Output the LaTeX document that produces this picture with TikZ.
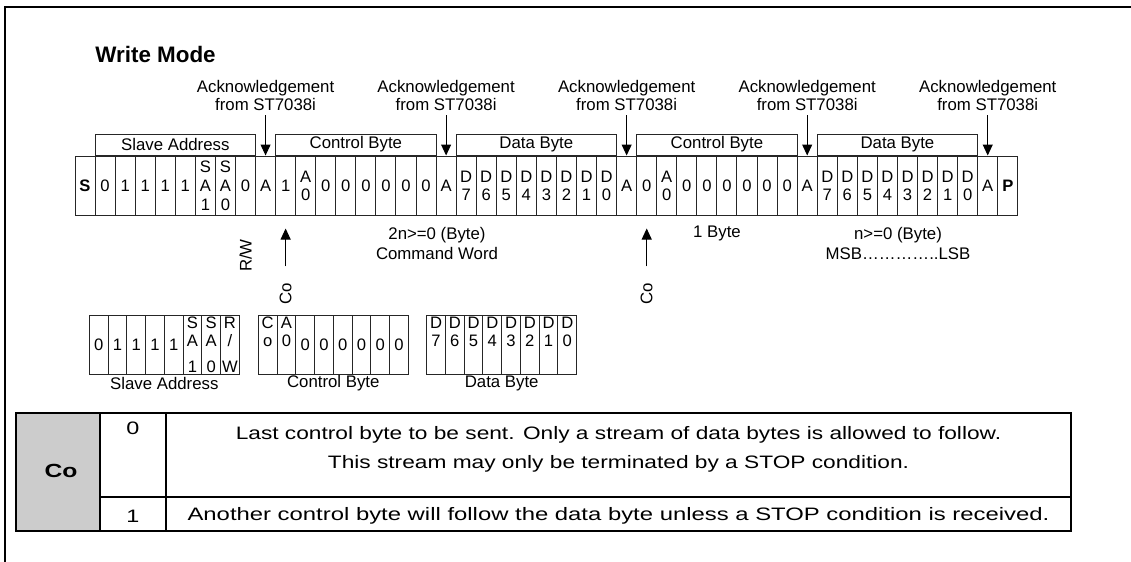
\documentclass[tikz,border=0pt]{standalone}
\usepackage{fontspec}
\setmainfont{Liberation Sans}
\usetikzlibrary{arrows.meta, calc, positioning}

% stacked cell texts
\newcommand{\stk}[2]{#1\\[-0.5pt]#2}
\newcommand{\bstk}[2]{#1\\[-0.5pt]#2\\[3.5pt]\phantom{0}}
\newcommand{\bthree}[3]{#1\\[-0.5pt]#2\\[3.5pt]#3}

\begin{document}
\begin{tikzpicture}[
	x=0.5pt, y=-0.5pt,
	every node/.style={inner sep=0pt, font=\fontsize{8.4}{9}\selectfont},
	cell/.style={draw=black!85, line width=0.5pt, minimum width=10.03pt, minimum height=29.5pt, align=center, font=\fontsize{8.3}{9.5}\selectfont},
	bcell/.style={cell, minimum width=9.375pt},
	hdr/.style={draw=black!85, line width=0.5pt, minimum width=80.24pt, minimum height=10.5pt, anchor=south west},
	ack/.style={align=center, font=\fontsize{8.4}{9}\selectfont},
	arrow/.style={line width=0.5pt, -{Triangle[width=5pt,length=5.5pt]}},
	tbl/.style={line width=1pt},
	tfont/.style={font=\fontsize{9}{11}\selectfont, xscale=1.3}
	]

	\useasboundingbox (0,0) rectangle (1131,562);
	\draw[line width=1pt] (5,562) -- (5,7) -- (1131,7);

	\node[anchor=base west, font=\fontsize{11.2}{12}\selectfont\bfseries] (title) at (95,62) {Write Mode};

	% Stream
	\foreach \t [count=\i from 0] in {\textbf{S},0,1,1,1,1,{S\\A\\1},{S\\A\\0},0,A,
		1,{\stk{A}{0}},0,0,0,0,0,0,A,
		{\stk{D}{7}},{\stk{D}{6}},{\stk{D}{5}},{\stk{D}{4}},{\stk{D}{3}},{\stk{D}{2}},{\stk{D}{1}},{\stk{D}{0}},A,
		0,{\stk{A}{0}},0,0,0,0,0,0,A,
		{\stk{D}{7}},{\stk{D}{6}},{\stk{D}{5}},{\stk{D}{4}},{\stk{D}{3}},{\stk{D}{2}},{\stk{D}{1}},{\stk{D}{0}},A,\textbf{P}}
		\node[cell] (c\i) at ({75+(\i+0.5)*20.06}, 185.5) {\t};

	\foreach \a/\txt in {1/Slave Address, 10/Control Byte, 19/Data Byte, 28/Control Byte, 37/Data Byte}
		\node[hdr] (h\a) at (c\a.north west) {\txt};

	% Acknowledgement
	\foreach \j in {9,18,27,36,45} {
		\node[ack] (ack\j) at ($(c\j.north)+(0,-60)$) {Acknowledgement\\from ST7038i};
		\draw[arrow, shorten <=2pt] (ack\j) -- (c\j.north);
	}

	% Below the stream
	\node[rotate=90] (rw) at ($(c8.south)+(0,40)$) {R/W};
	\node[rotate=90] (co1) at ($(c10.south)+(0,78)$) {Co};
	\node[rotate=90] (co2) at ($(c28.south)+(0,78)$) {Co};
	\coordinate (tip1) at ($(c10.south)+(0,13)$);
	\coordinate (tip2) at ($(c28.south)+(0,13)$);
	\draw[arrow, shorten <=8pt] (co1) -- (tip1);
	\draw[arrow, shorten <=8pt] (co2) -- (tip2);

	\node[align=center, font=\fontsize{8.4}{10}\selectfont] (cmd) at (437,243) {2n>=0 (Byte)\\Command Word};
	\node (onebyte) at (717,233) {1 Byte};
	\node[align=center, font=\fontsize{8.4}{10}\selectfont] (msb) at (898,243) {n>=0 (Byte)\\MSB…………..LSB};

	% Bytes
	\foreach \t [count=\i] in {0,1,1,1,1,{\bthree{S}{A}{1}},{\bthree{S}{A}{0}},{\bthree{R}{/}{W}}}
		\node[bcell] (s\i) at ({89.3+(\i-0.5)*18.75}, 344.5) {\t};
	\foreach \t [count=\i] in {{\bstk{C}{o}},{\bstk{A}{0}},0,0,0,0,0,0}
		\node[bcell] (k\i) at ({258.3+(\i-0.5)*18.75}, 344.5) {\t};
	\foreach \t [count=\i] in {{\bstk{D}{7}},{\bstk{D}{6}},{\bstk{D}{5}},{\bstk{D}{4}},{\bstk{D}{3}},{\bstk{D}{2}},{\bstk{D}{1}},{\bstk{D}{0}}}
		\node[bcell] (d\i) at ({426.7+(\i-0.5)*18.75}, 344.5) {\t};
	\node (slab) at ($(s1.south)!0.5!(s8.south)+(0,9)$) {Slave Address};
	\node (klab) at ($(k1.south)!0.5!(k8.south)+(0,9)$) {Control Byte};
	\node (dlab) at ($(d1.south)!0.5!(d8.south)+(0,9)$) {Data Byte};

	% Table
	\draw[tbl, fill=black!20] (16,413) rectangle (100,531);
	\draw[tbl] (16,413) rectangle (1071,531);
	\draw[tbl] (166,413) -- (166,531);
	\draw[tbl] (100,497) -- (1071,497);
	\node[tfont, font=\fontsize{9.5}{11}\selectfont\bfseries] (cohead) at (61,471) {Co};
	\node[tfont] (zero) at (133,428) {0};
	\node[tfont] (one) at (133,516) {1};
	\node[tfont, xscale=0.97] (row1a) at (618.5,435) {Last control byte to be sent. Only a stream of data bytes is allowed to follow.};
	\node[tfont, xscale=0.97] (row1b) at (618.5,464) {This stream may only be terminated by a STOP condition.};
	\node[tfont, xscale=1.02] (row2) at (618.5,516) {Another control byte will follow the data byte unless a STOP condition is received.};
\end{tikzpicture}
\end{document}
